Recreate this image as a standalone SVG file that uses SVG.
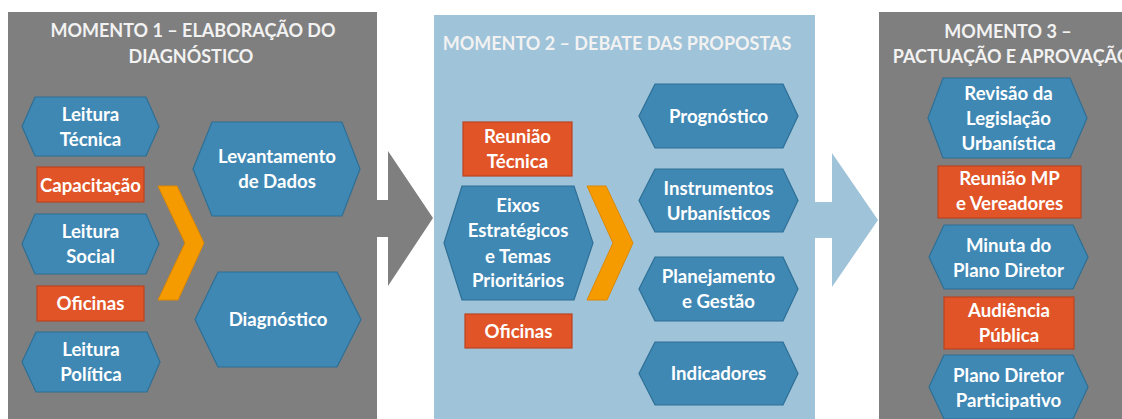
<svg xmlns="http://www.w3.org/2000/svg" width="1122" height="419" viewBox="0 0 1122 419">
<style>
.t{font-family:Lato,"Open Sans","Liberation Sans",sans-serif;font-weight:700;font-size:18.6px;fill:#ffffff;text-anchor:middle}
.h{font-family:Lato,"Open Sans","Liberation Sans",sans-serif;font-weight:700;font-size:18px;fill:#f2f2f2;text-anchor:middle}
.hex{fill:#3f88b4;stroke:#2e6f95;stroke-width:1.2}
.rct{fill:#e05427;stroke:#b94420;stroke-width:1.2}
.chev{fill:#f59b00;stroke:#dc8800;stroke-width:1}
</style>
<rect width="1122" height="419" fill="#ffffff"/>
<g id="panels">
<rect id="panel1" x="8" y="12" width="369" height="410" fill="#7f7f7f"/>
<rect id="panel2" x="434" y="15" width="381" height="410" fill="#9fc3d9"/>
<rect id="panel3" x="879" y="12" width="250" height="410" fill="#7f7f7f"/>
</g>
<g id="titles">
<text class="h" x="193" y="37">MOMENTO 1 – ELABORAÇÃO DO</text>
<text class="h" x="191" y="63">DIAGNÓSTICO</text>
<text class="h" x="617" y="50">MOMENTO 2 – DEBATE DAS PROPOSTAS</text>
<text class="h" x="1008" y="38">MOMENTO 3 –</text>
<text class="h" x="1012" y="63">PACTUAÇÃO E APROVAÇÃO</text>
</g>
<g id="connectors">
<polygon points="376,200 388,200 388,151 433,218 388,286 388,237 376,237" fill="#7f7f7f"/>
<polygon points="814,202 832,202 832,153 878,220 832,287 832,238 814,238" fill="#9fc3d9"/>
<polygon class="chev" points="158,186 177,186 204,243 178,300 158,300 185,243"/>
<polygon class="chev" points="587,186 606,186 633,243 607,300 587,300 613,243"/>
</g>
<g id="leitura-tecnica"><polygon class="hex" points="35,97 146,97 159,126.5 146,156 35,156 22,126.5"/><text class="t" x="90.5" y="121">Leitura</text><text class="t" x="90.5" y="146">Técnica</text></g>
<g id="capacitacao"><rect class="rct" x="37" y="167" width="107" height="35"/><text class="t" x="90.5" y="192">Capacitação</text></g>
<g id="leitura-social"><polygon class="hex" points="35,214 146,214 159,244 146,274 35,274 22,244"/><text class="t" x="90.5" y="238">Leitura</text><text class="t" x="90.5" y="263">Social</text></g>
<g id="oficinas-1"><rect class="rct" x="37" y="286" width="107" height="35"/><text class="t" x="90.5" y="310">Oficinas</text></g>
<g id="leitura-politica"><polygon class="hex" points="36,332 147,332 160,362 147,392 36,392 22,362"/><text class="t" x="91" y="356">Leitura</text><text class="t" x="91" y="381">Política</text></g>
<g id="levantamento"><polygon class="hex" points="212,122 342,122 360,169 342,216 212,216 193,169"/><text class="t" x="277" y="163">Levantamento</text><text class="t" x="277" y="188">de Dados</text></g>
<g id="diagnostico"><polygon class="hex" points="218,272 337,272 361,319.5 337,367 218,367 195,319.5"/><text class="t" x="278" y="326">Diagnóstico</text></g>
<g id="reuniao-tecnica"><rect class="rct" x="463" y="122" width="109" height="54"/><text class="t" x="517.5" y="143">Reunião</text><text class="t" x="517.5" y="168">Técnica</text></g>
<g id="eixos"><polygon class="hex" points="462,186 574,186 593,243 574,300 462,300 444,243"/><text class="t" x="518" y="212">Eixos</text><text class="t" x="518" y="237">Estratégicos</text><text class="t" x="518" y="263">e Temas</text><text class="t" x="518" y="287">Prioritários</text></g>
<g id="oficinas-2"><rect class="rct" x="465" y="314" width="107" height="34"/><text class="t" x="518.5" y="338">Oficinas</text></g>
<g id="prognostico"><polygon class="hex" points="655,84 783,84 798,116 783,148 655,148 639,116"/><text class="t" x="718.5" y="123">Prognóstico</text></g>
<g id="instrumentos"><polygon class="hex" points="655,169 783,169 798,200.5 783,232 655,232 639,200.5"/><text class="t" x="718.5" y="195">Instrumentos</text><text class="t" x="718.5" y="220">Urbanísticos</text></g>
<g id="planejamento"><polygon class="hex" points="655,257 783,257 798,289 783,321 655,321 639,289"/><text class="t" x="718.5" y="283">Planejamento</text><text class="t" x="718.5" y="308">e Gestão</text></g>
<g id="indicadores"><polygon class="hex" points="655,342 783,342 798,373.5 783,405 655,405 639,373.5"/><text class="t" x="718.5" y="380">Indicadores</text></g>
<g id="revisao"><polygon class="hex" points="943,78 1070,78 1087,118 1070,158 943,158 928,118"/><text class="t" x="1008.5" y="100">Revisão da</text><text class="t" x="1008.5" y="125">Legislação</text><text class="t" x="1008.5" y="150">Urbanística</text></g>
<g id="reuniao-mp"><rect class="rct" x="938" y="166" width="143" height="52"/><text class="t" x="1009.5" y="185">Reunião MP</text><text class="t" x="1009.5" y="210">e Vereadores</text></g>
<g id="minuta"><polygon class="hex" points="944,225 1073,225 1088,257 1073,289 944,289 929,257"/><text class="t" x="1008.5" y="252">Minuta do</text><text class="t" x="1008.5" y="277">Plano Diretor</text></g>
<g id="audiencia"><rect class="rct" x="944" y="297" width="130" height="52"/><text class="t" x="1009" y="317">Audiência</text><text class="t" x="1009" y="342">Pública</text></g>
<g id="plano-diretor"><polygon class="hex" points="944,355 1073,355 1088,387 1073,419 944,419 929,387"/><text class="t" x="1008.5" y="382">Plano Diretor</text><text class="t" x="1008.5" y="407">Participativo</text></g>
</svg>
